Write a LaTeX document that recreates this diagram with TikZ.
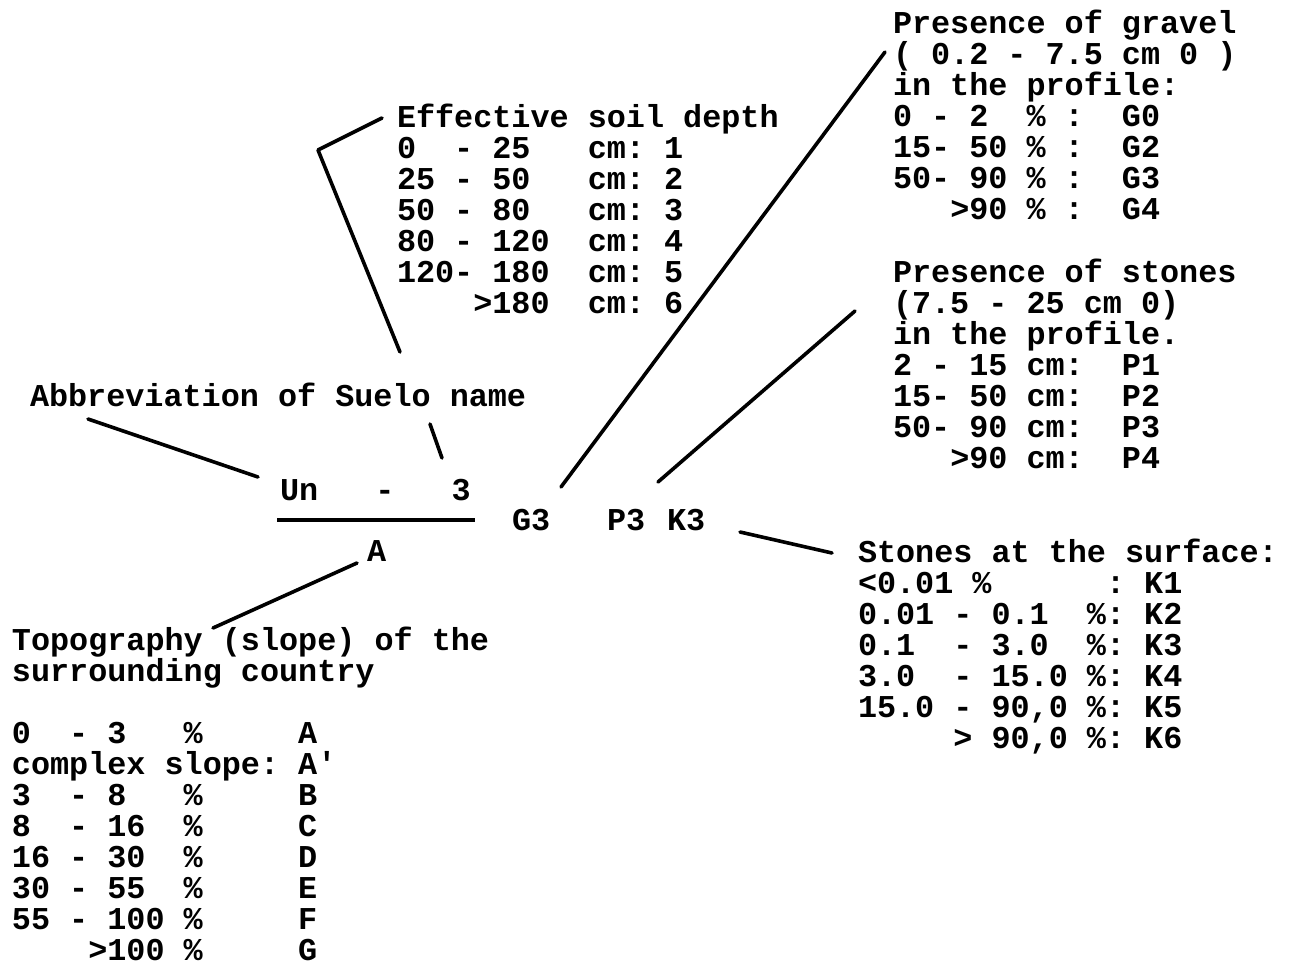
\documentclass[tikz,border=0pt]{standalone}
\usepackage{fontspec}
\setmonofont{Liberation Mono}
\newcommand\tw{\ttfamily\bfseries\fontsize{31.8}{31.0}\selectfont}
% multi-line blocks are placed by the baseline of their last line
\tikzset{
  txt/.style={font=\tw, anchor=base west, inner sep=0pt, outer sep=0pt, align=left},
  lead/.style={line width=3.6pt, line cap=round, line join=round}
}
\begin{document}
\begin{tikzpicture}[x=1pt,y=-1pt]
\useasboundingbox (0,0) rectangle (1291,964);

% the map symbol
\node[txt] (un) at (280,500) {Un~~~-~~~3};
\node[txt] (g3) at (512,530) {G3};
\node[txt] (p3) at (607,530) {P3};
\node[txt] (k3) at (667,530) {K3};
\node[txt] (a)  at (367,561) {A};
\coordinate (barl) at (277,520);
\coordinate (barr) at (475,520);
\draw[line width=3.6pt] (barl) -- (barr);

% legend blocks
\node[txt] (abbr) at (30,406) {Abbreviation of Suelo name};

\node[txt] (depth) at (397,313) {Effective soil depth\\
0~~-~25~~~cm:~1\\
25~-~50~~~cm:~2\\
50~-~80~~~cm:~3\\
80~-~120~~cm:~4\\
120-~180~~cm:~5\\
~~~~>180~~cm:~6};

\node[txt] (gravel) at (893,219) {Presence of gravel\\
(~0.2~-~7.5~cm~0~)\\
in the profile:\\
0~-~2~~\%~:~~G0\\
15-~50~\%~:~~G2\\
50-~90~\%~:~~G3\\
~~~>90~\%~:~~G4};

\node[txt] (stones) at (893,468) {Presence of stones\\
(7.5~-~25~cm~0)\\
in the profile.\\
2~-~15~cm:~~P1\\
15-~50~cm:~~P2\\
50-~90~cm:~~P3\\
~~~>90~cm:~~P4};

\node[txt] (surface) at (858,748) {Stones at the surface:\\
<0.01~\%~~~~~~:~K1\\
0.01~-~0.1~~\%:~K2\\
0.1~~-~3.0~~\%:~K3\\
3.0~~-~15.0~\%:~K4\\
15.0~-~90,0~\%:~K5\\
~~~~~>~90,0~\%:~K6};

\node[txt] (topo) at (12,960) {Topography (slope) of the\\
surrounding country\\
\strut\\
0~~-~3~~~\%~~~~~A\\
complex slope:~A'\\
3~~-~8~~~\%~~~~~B\\
8~~-~16~~\%~~~~~C\\
16~-~30~~\%~~~~~D\\
30~-~55~~\%~~~~~E\\
55~-~100~\%~~~~~F\\
~~~~>100~\%~~~~~G};

% leader line end points
\coordinate (dTop) at (382,118);
\coordinate (dCorner) at (318,150);
\coordinate (dFoot) at (400,352);
\coordinate (nTop) at (430,424);
\coordinate (nFoot) at (442,458);
\coordinate (abTop) at (88,419);
\coordinate (abFoot) at (258,477);
\coordinate (gFoot) at (561,487);
\coordinate (gTop) at (885,52);
\coordinate (sFoot) at (658,482);
\coordinate (sTop) at (855,311);
\coordinate (kFoot) at (740,532);
\coordinate (kTop) at (832,553);
\coordinate (aTop) at (357,563);
\coordinate (aFoot) at (213,628);

% leaders
\draw[lead] (dTop) -- (dCorner) -- (dFoot);
\draw[lead] (nTop) -- (nFoot);
\draw[lead] (abTop) -- (abFoot);
\draw[lead] (gFoot) -- (gTop);
\draw[lead] (sFoot) -- (sTop);
\draw[lead] (kFoot) -- (kTop);
\draw[lead] (aTop) -- (aFoot);
\end{tikzpicture}
\end{document}
